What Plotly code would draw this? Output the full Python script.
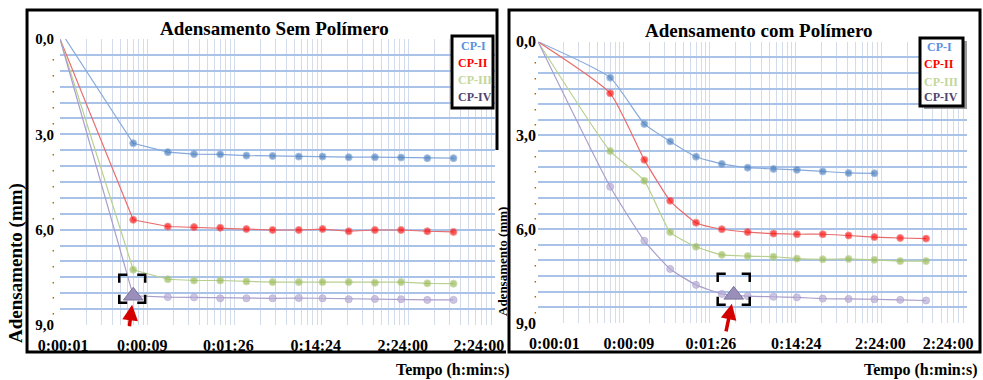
import math
import plotly.graph_objects as go

# ---------------- data ----------------
# time of readings (s); first point is the origin of the log axis (0:00:01 ~ 0.864 s)
t_origem = 0.864
t_origem_cp1_sem = 1.0
t_leituras = [6, 15, 30, 60, 120, 240, 480, 900, 1800, 3600, 7200, 14400, 28800]

# Adensamento Sem Polímero (mm)
sem_cp1 = [0, 3.28, 3.56, 3.62, 3.63, 3.67, 3.68, 3.70, 3.70, 3.72, 3.72, 3.73, 3.75, 3.75]
sem_cp2 = [0, 5.69, 5.90, 5.92, 5.94, 5.98, 6.01, 6.01, 5.98, 6.05, 6.01, 6.01, 6.05, 6.07]
sem_cp3 = [0, 7.26, 7.56, 7.60, 7.60, 7.63, 7.65, 7.65, 7.65, 7.65, 7.67, 7.65, 7.69, 7.70]
sem_cp4 = [0, 8.08, 8.12, 8.13, 8.16, 8.16, 8.16, 8.15, 8.16, 8.19, 8.18, 8.19, 8.21, 8.21]

# Adensamento com Polímero (mm)
com_cp1 = [0, 1.15, 2.63, 3.19, 3.68, 3.91, 4.03, 4.07, 4.10, 4.15, 4.20, 4.21]
com_cp2 = [0, 1.65, 3.78, 5.09, 5.79, 6.00, 6.09, 6.14, 6.16, 6.16, 6.20, 6.25, 6.28, 6.30]
com_cp3 = [0, 3.50, 4.45, 6.09, 6.56, 6.82, 6.86, 6.88, 6.94, 6.96, 6.95, 6.98, 7.02, 7.02]
com_cp4 = [0, 4.64, 6.37, 7.27, 7.78, 8.07, 8.14, 8.16, 8.18, 8.22, 8.23, 8.24, 8.26, 8.28]

# highlighted points (triangle)
destaque_sem = (6, 8.08)
destaque_com = (165, 8.10)

series_names = ["CP-I", "CP-II", "CP-III", "CP-IV"]
x_tick_labels = ["0:00:01", "0:00:09", "0:01:26", "0:14:24", "2:24:00", "2:24:00"]
y_major_labels = {0: "0,0", 3: "3,0", 6: "6,0", 9: "9,0"}

# ---------------- styles ----------------
W, H = 983, 380
marker_colors = ["#4a7ebb", "#ff1010", "#9bbb59", "#b9acd6"]
line_colors = ["#86a9dc", "#e86c6c", "#b8d08e", "#a99dcc"]
legend_colors = ["#5a90dd", "#ff0000", "#c3d79b", "#4d4672"]
FONT = "Liberation Serif"

# plot-area boxes in pixels (left, right, top(y=0), bottom(y=9))
AREA_SEM = (60, 495, 39, 325)
AREA_COM = (538, 967, 41.7, 323)
XR = [math.log10(t_origem), math.log10(t_origem * 10 ** 5)]
YMAX = 9


def px(x):
    return x / W


def py(y):
    return 1 - y / H


def to_pixel(area, t, v):
    l, r, top, bot = area
    xp = l + (math.log10(t) - XR[0]) / (XR[1] - XR[0]) * (r - l)
    yp = top + v / YMAX * (bot - top)
    return xp, yp


fig = go.Figure()

sem = [sem_cp1, sem_cp2, sem_cp3, sem_cp4]
com = [com_cp1, com_cp2, com_cp3, com_cp4]

for i, ys in enumerate(sem):
    ts = ([t_origem_cp1_sem] if i == 0 else [t_origem]) + t_leituras
    ts = ts[:len(ys)]
    fig.add_trace(go.Scatter(
        x=ts, y=ys, xaxis="x", yaxis="y", mode="lines+markers", name=series_names[i],
        line=dict(color=line_colors[i], width=1.2),
        marker=dict(color=marker_colors[i], size=[0] + [7] * (len(ys) - 1), symbol="circle"),
        showlegend=False))

for i, ys in enumerate(com):
    ts = ([t_origem] + t_leituras)[:len(ys)]
    fig.add_trace(go.Scatter(
        x=ts, y=ys, xaxis="x2", yaxis="y2", mode="lines+markers", name=series_names[i],
        line=dict(color=line_colors[i], width=1.2, shape="spline", smoothing=0.5),
        marker=dict(color=marker_colors[i], size=[0] + [7] * (len(ys) - 1), symbol="circle"),
        showlegend=False))

# triangles
for (tt, yy), xa, ya in [(destaque_sem, "x", "y"), (destaque_com, "x2", "y2")]:
    fig.add_trace(go.Scatter(
        x=[tt], y=[yy], xaxis=xa, yaxis=ya, mode="markers", showlegend=False,
        marker=dict(symbol="triangle-up", size=17, color="#9a8fbb",
                    line=dict(color="#7d7299", width=1))))

# ---------------- axes ----------------
grid_vals = [t_origem * k * 10 ** n for n in range(5) for k in range(1, 10)] + [t_origem * 10 ** 5]
decades = [t_origem * 10 ** n for n in range(6)]


def label_positions(shift_decades):
    # Excel keeps the end labels inside the plot area: small shifts (in decades)
    return [d * 10 ** s for d, s in zip(decades, shift_decades)]


y_vals = [v / 2 for v in range(0, 2 * YMAX + 1)]
small = "<span style='font-size:6px'>,</span>"
y_text = [y_major_labels[int(v)] if (float(v).is_integer() and int(v) in y_major_labels) else small
          for v in y_vals]

common_x = dict(type="log", range=XR, tickmode="array", ticktext=x_tick_labels,
                showgrid=False, zeroline=False, showline=False, automargin=False,
                ticks="", tickfont=dict(family=FONT, size=16, color="black", weight="bold"),
                ticklabelstandoff=9,
                minor=dict(tickmode="array", tickvals=grid_vals, showgrid=True,
                           gridcolor="#d3dcea", gridwidth=1, ticks=""))
common_y = dict(range=[YMAX, 0], tickmode="array", tickvals=y_vals, ticktext=y_text,
                showgrid=True, gridcolor="#a9c2e8", gridwidth=1.5, zeroline=False, showline=False,
                ticks="", automargin=False)

fig.update_layout(
    width=W, height=H, margin=dict(l=0, r=0, t=0, b=0, autoexpand=False),
    paper_bgcolor="white", plot_bgcolor="white",
    xaxis=dict(domain=[px(AREA_SEM[0]), px(AREA_SEM[1])], anchor="y",
               tickvals=label_positions([0.035, -0.055, -0.065, -0.06, -0.06, -0.185]), **common_x),
    yaxis=dict(domain=[py(AREA_SEM[3]), py(AREA_SEM[2])], anchor="x",
               tickfont=dict(family=FONT, size=15, color="black", weight="bold"),
               ticklabelstandoff=5, **common_y),
    xaxis2=dict(domain=[px(AREA_COM[0]), px(AREA_COM[1])], anchor="y2",
                tickvals=label_positions([0.19, 0.06, 0.015, 0.01, -0.01, -0.22]), **common_x),
    yaxis2=dict(domain=[py(AREA_COM[3]), py(AREA_COM[2])], anchor="x2",
                tickfont=dict(family=FONT, size=16, color="black", weight="bold"),
                ticklabelstandoff=1, **common_y),
)

shapes = []
annotations = []

# panel borders (left panel: right edge only visible in its upper part)
shapes.append(dict(type="path", xref="paper", yref="paper",
                   path="M {:.4f},{:.4f} L {:.4f},{:.4f} L {:.4f},{:.4f} L {:.4f},{:.4f} L {:.4f},{:.4f}".format(
                       px(497), py(150), px(497), py(10), px(27), py(10), px(27), py(352), px(506), py(352)),
                   line=dict(color="black", width=3), layer="above"))
shapes.append(dict(type="rect", xref="paper", yref="paper", x0=px(509), x1=px(980),
                   y0=py(352), y1=py(10), line=dict(color="black", width=3), layer="above"))

# titles
for text, cx, cy in [("Adensamento Sem Polímero", 274, 28), ("Adensamento com Polímero", 759, 30)]:
    annotations.append(dict(text=text, xref="paper", yref="paper", x=px(cx), y=py(cy),
                            showarrow=False, xanchor="center", yanchor="middle",
                            font=dict(family=FONT, size=19, color="black", weight="bold")))

# axis titles
for cx, cy in [(453, 370), (921, 370)]:
    annotations.append(dict(text="Tempo (h:min:s)", xref="paper", yref="paper", x=px(cx), y=py(cy),
                            showarrow=False, xanchor="center", yanchor="middle",
                            font=dict(family=FONT, size=16, color="black", weight="bold")))
for cx, cy, fs in [(16, 263, 19), (502, 262, 13)]:
    annotations.append(dict(text="Adensamento (mm)", xref="paper", yref="paper", x=px(cx), y=py(cy),
                            showarrow=False, textangle=-90, xanchor="center", yanchor="middle",
                            font=dict(family=FONT, size=fs, color="black", weight="bold")))

# legends (text boxes)
for (bx0, bx1, by0, by1, tx, rows, shadow) in [
        (452, 493, 36, 108, 456, [46, 63, 80, 97], False),
        (920, 963, 38, 106, 922, [47, 64, 82, 97], True)]:
    if shadow:
        shapes.append(dict(type="rect", xref="paper", yref="paper", x0=px(bx0 + 4), x1=px(bx1 + 4),
                           y0=py(by1 + 3), y1=py(by0 + 3), line=dict(width=0),
                           fillcolor="#9a9a9a", layer="above"))
    shapes.append(dict(type="rect", xref="paper", yref="paper", x0=px(bx0), x1=px(bx1),
                       y0=py(by1), y1=py(by0), line=dict(color="black", width=3),
                       fillcolor="white", layer="above"))
    for i, name in enumerate(series_names):
        annotations.append(dict(text=name, xref="paper", yref="paper", x=px(tx + (3 if i == 0 else 0)),
                                y=py(rows[i]), showarrow=False, xanchor="left", yanchor="middle",
                                font=dict(family=FONT, size=12, color=legend_colors[i], weight="bold")))

# dashed bracket boxes and red arrows around highlighted points
for (tt, yy), area, (l, r, top, bot), (ax, ay) in [
        (destaque_sem, AREA_SEM, (-14, 12, -21, 7), (-4, 32)),
        (destaque_com, AREA_COM, (-16, 16, -21, 10), (-8, 38))]:
    cx, cy = to_pixel(area, tt, yy)
    a = 8
    L, R, T, B = cx + l, cx + r, cy + top, cy + bot
    segs = [[(L, T + a), (L, T), (L + a, T)], [(R - a, T), (R, T), (R, T + a)],
            [(R, B - a), (R, B), (R - a, B)], [(L + a, B), (L, B), (L, B - a)]]
    path = ""
    for seg in segs:
        path += "M {:.4f},{:.4f} ".format(px(seg[0][0]), py(seg[0][1]))
        for q in seg[1:]:
            path += "L {:.4f},{:.4f} ".format(px(q[0]), py(q[1]))
    shapes.append(dict(type="path", xref="paper", yref="paper", path=path.strip(),
                       line=dict(color="black", width=2.5), layer="above"))
    annotations.append(dict(text="", xref="paper", yref="paper", x=px(cx), y=py(cy), showarrow=True,
                            ax=ax, ay=ay, arrowhead=2, arrowsize=0.9, arrowwidth=3.5,
                            arrowcolor="#d40000", standoff=9))

fig.update_layout(shapes=shapes, annotations=annotations)

fig.write_html("out.html", config={"displayModeBar": False},
               post_script="document.body.style.margin='0';document.body.style.overflow='hidden';")
